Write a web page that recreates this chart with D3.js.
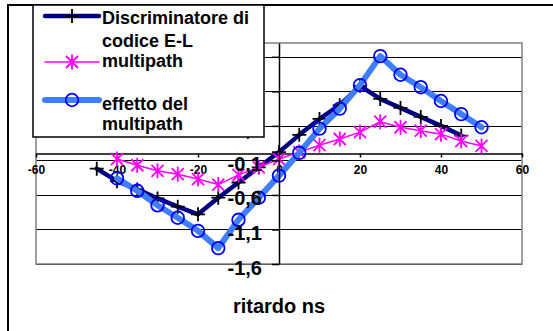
<!DOCTYPE html>
<html><head><meta charset="utf-8">
<script src="https://cdn.jsdelivr.net/npm/d3@7"></script>
<style>body{margin:0;background:#fff}svg{display:block}text{font-family:"Liberation Sans",Arial,sans-serif;font-weight:bold}</style>
</head><body>
<svg id="c" width="553" height="331"></svg>
<script>
const delaysDisc = [-45,-40,-35,-30,-25,-20,-15,-10,-5,0,5,10,15,20,25,30,35,40,45];
const discriminatore = [-0.22,-0.40,-0.52,-0.65,-0.77,-0.88,-0.64,-0.42,-0.20,0.02,0.27,0.50,0.70,0.98,0.79,0.66,0.53,0.40,0.26];
const delaysMp = [-40,-35,-30,-25,-20,-15,-10,-5,0,5,10,15,20,25,30,35,40,45,50];
const multipath = [-0.08,-0.17,-0.25,-0.30,-0.37,-0.45,-0.31,-0.20,-0.08,0.02,0.12,0.21,0.31,0.46,0.38,0.33,0.28,0.18,0.11];
const effetto = [-0.36,-0.54,-0.75,-0.93,-1.12,-1.37,-0.96,-0.64,-0.32,0.01,0.36,0.65,0.99,1.41,1.14,0.96,0.76,0.57,0.38];
const xTicks = [-60,-40,-20,0,20,40,60];
const yTicks = [-1.6,-1.1,-0.6,-0.1,0.4,0.9,1.4];
const legendLabels = [["Discriminatore di","codice E-L"],["multipath"],["effetto del","multipath"]];
const xTitle = "ritardo ns";

const svg = d3.select("#c");
const P = {l:36, r:522, t:43, b:264};
const x = d3.scaleLinear().domain([-60,60]).range([P.l,P.r]);
const y = d3.scaleLinear().domain([-1.6,1.6]).range([P.b,P.t]);
const fmt = v => v.toFixed(1).replace(".",",");

// outer chart border
svg.append("rect").attr("x",8).attr("y",5).attr("width",560).attr("height",340)
  .attr("fill","#fff").attr("stroke","#000").attr("stroke-width",2);

// gridlines
svg.append("g").selectAll("line").data(yTicks).join("line")
  .attr("x1",P.l).attr("x2",P.r).attr("y1",d=>Math.round(y(d))+0.5).attr("y2",d=>Math.round(y(d))+0.5)
  .attr("stroke","#000").attr("stroke-width",1);

// plot area border
svg.append("rect").attr("x",P.l).attr("y",P.t).attr("width",P.r-P.l).attr("height",P.b-P.t)
  .attr("fill","none").attr("stroke","#808080").attr("stroke-width",1.5);

// x axis at y=0
const xa = svg.append("g").attr("transform",`translate(0,${y(0)})`)
  .call(d3.axisBottom(x).tickValues(xTicks).tickSize(4).tickSizeOuter(0).tickPadding(8).tickFormat(d3.format("d")));
xa.select(".domain").attr("stroke","#000").attr("stroke-width",1.5);
xa.selectAll(".tick line").attr("stroke","#000").attr("stroke-width",1.5);
xa.selectAll("text").attr("font-size",12).attr("font-family",null).attr("fill","#000").text(d=>String(d).replace("\u2212","-"));

// y axis at x=0
const ya = svg.append("g").attr("transform",`translate(${x(0)},0)`)
  .call(d3.axisLeft(y).tickValues(yTicks).tickSize(7).tickSizeOuter(0).tickPadding(10).tickFormat(fmt));
ya.select(".domain").attr("stroke","#000").attr("stroke-width",1.5);
ya.selectAll(".tick line").attr("stroke","#000").attr("stroke-width",1.5);

// series
const line = d3.line().x(d=>x(d[0])).y(d=>y(d[1]));
const s1 = delaysDisc.map((d,i)=>[d,discriminatore[i]]);
const s2 = delaysMp.map((d,i)=>[d,multipath[i]]);
const s3 = delaysMp.map((d,i)=>[d,effetto[i]]);
const plusPath = "M-7,0H7M0,-7V7";
const starPath = "M-6,-6L6,6M-6,6L6,-6M0,-7.5V7.5";

function drawSeries(g, data, cfg){
  g.append("path").datum(data).attr("d",line).attr("fill","none")
    .attr("stroke",cfg.color).attr("stroke-width",cfg.width).attr("stroke-linejoin","round").attr("stroke-linecap","round");
  const m = g.selectAll(".m").data(data).join("g").attr("transform",d=>`translate(${x(d[0])},${y(d[1])})`);
  cfg.marker(m);
}
const mPlus = s => s.append("path").attr("d",plusPath).attr("stroke","#000").attr("stroke-width",1.8).attr("fill","none");
const mStar = s => s.append("path").attr("d",starPath).attr("stroke","#ff00ff").attr("stroke-width",1.8).attr("fill","none");
const mCirc = s => s.append("circle").attr("r",6.3).attr("stroke","#0000ff").attr("stroke-width",1.8).attr("fill","none");

const gs = svg.append("g");
drawSeries(gs.append("g"), s1, {color:"#000080", width:4.5, marker:mPlus});
drawSeries(gs.append("g"), s2, {color:"#ff00ff", width:1.5, marker:mStar});
drawSeries(gs.append("g"), s3, {color:"#3f7fff", width:6, marker:mCirc});

// y labels on top
ya.raise();
ya.selectAll("text").attr("font-size",20).attr("font-family",null).attr("fill","#000").attr("dy","0.5em");

// x title
svg.append("text").attr("x",279).attr("y",313).attr("text-anchor","middle").attr("font-size",20).text(xTitle);

// legend
const lg = svg.append("g");
lg.append("rect").attr("x",33).attr("y",5).attr("width",231).attr("height",132)
  .attr("fill","#fff").attr("stroke","#000").attr("stroke-width",1.5);
const legendCfg = [
  {y:16, color:"#000080", width:4.5, marker:mPlus, base:[23.5,46.5]},
  {y:62, color:"#ff00ff", width:1.5, marker:mStar, base:[67]},
  {y:100, color:"#3f7fff", width:6, marker:mCirc, base:[110,129.5]}
];
legendCfg.forEach((c,i)=>{
  lg.append("line").attr("x1",45).attr("x2",99).attr("y1",c.y).attr("y2",c.y)
    .attr("stroke",c.color).attr("stroke-width",c.width).attr("stroke-linecap","round");
  c.marker(lg.append("g").attr("transform",`translate(72,${c.y})`));
  legendLabels[i].forEach((t,j)=>{
    lg.append("text").attr("x",102).attr("y",c.base[j]).attr("font-size",18).text(t);
  });
});
</script>
</body></html>
